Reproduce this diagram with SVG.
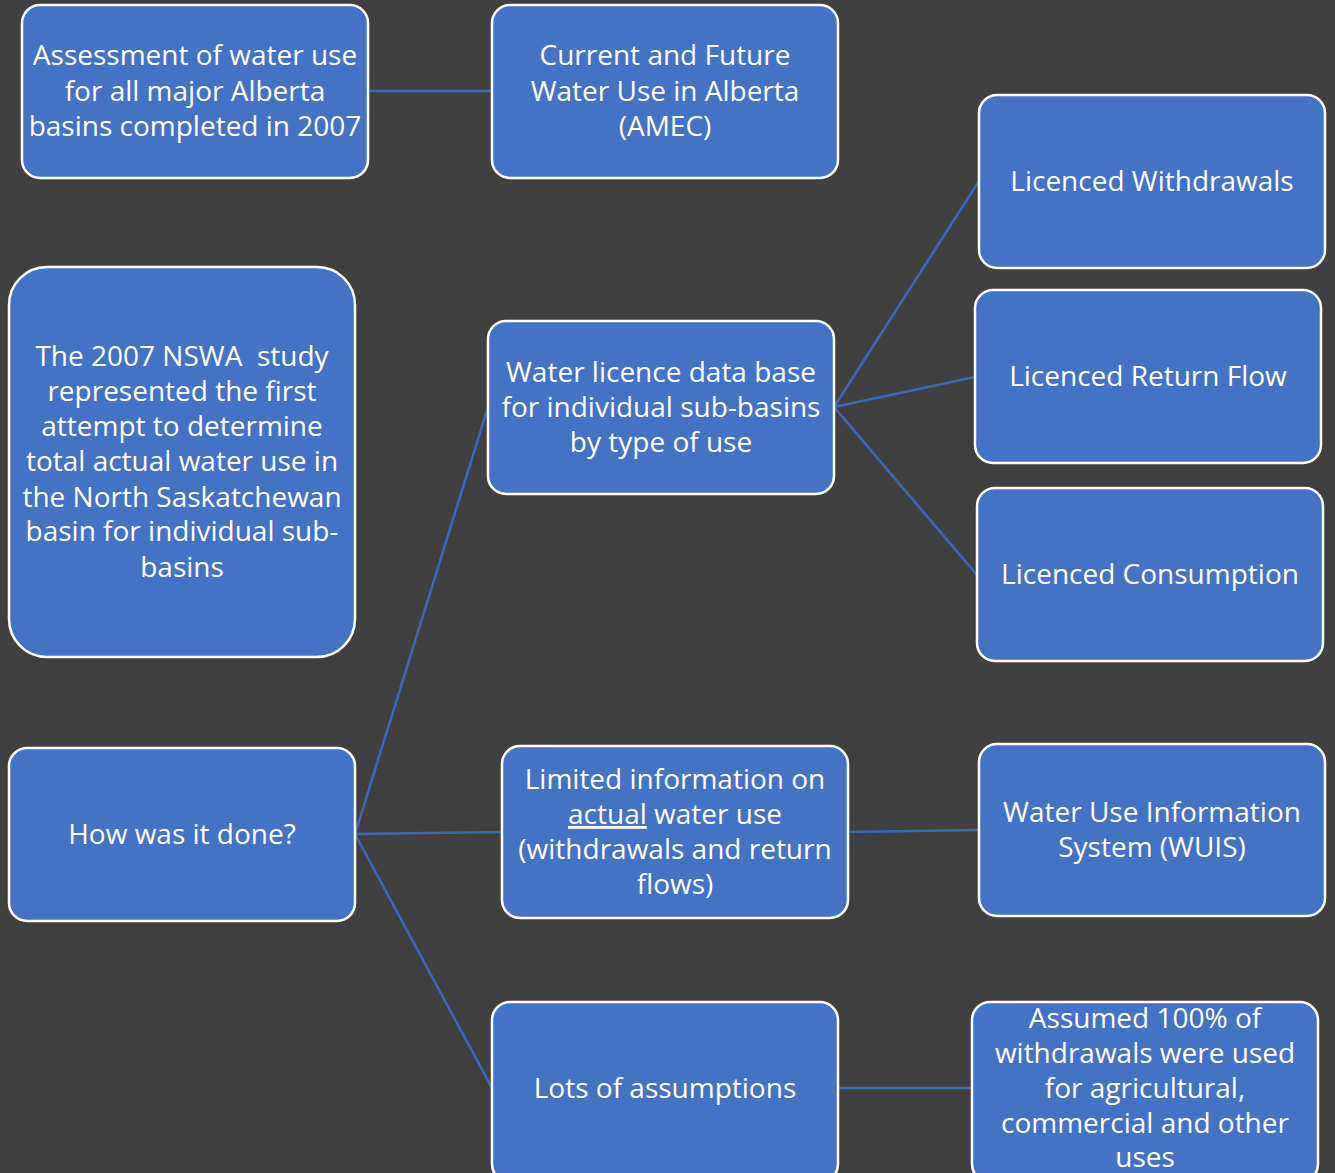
<svg xmlns="http://www.w3.org/2000/svg" width="1335" height="1173" viewBox="0 0 1335 1173">
<style>
.bx{fill:#4472C4;stroke:#FFFFFF;stroke-width:2.5}
.t{fill:#FFFFFF;font-family:"Open Sans","Noto Sans",sans-serif;font-size:28px;text-anchor:middle}
.c{stroke:#3D67B5;stroke-width:2.5;fill:none}
</style>
<rect x="0" y="0" width="1335" height="1173" fill="#404040"/>
<g id="connectors">
<line class="c" x1="368" y1="91" x2="492" y2="91"/>
<line class="c" x1="834" y1="407" x2="979" y2="181"/>
<line class="c" x1="834" y1="407" x2="975" y2="377"/>
<line class="c" x1="834" y1="407" x2="977" y2="575"/>
<line class="c" x1="355" y1="834" x2="488" y2="407"/>
<line class="c" x1="355" y1="834" x2="502" y2="832"/>
<line class="c" x1="355" y1="834" x2="492" y2="1088"/>
<line class="c" x1="848" y1="832" x2="979" y2="830"/>
<line class="c" x1="838" y1="1088" x2="972" y2="1088"/>
</g>
<g id="n1"><rect class="bx" x="22" y="5" width="346" height="173" rx="18"/>
<text class="t"><tspan x="195" y="65">Assessment of water use</tspan><tspan x="195" y="101">for all major Alberta</tspan><tspan x="195" y="136">basins completed in 2007</tspan></text></g>
<g id="n2"><rect class="bx" x="492" y="5" width="346" height="173" rx="18"/>
<text class="t"><tspan x="665" y="65">Current and Future</tspan><tspan x="665" y="101">Water Use in Alberta</tspan><tspan x="665" y="136">(AMEC)</tspan></text></g>
<g id="n3"><rect class="bx" x="979" y="95" width="346" height="173" rx="18"/>
<text class="t"><tspan x="1152" y="191">Licenced Withdrawals</tspan></text></g>
<g id="n4"><rect class="bx" x="9" y="267" width="346" height="390" rx="38"/>
<text class="t"><tspan x="182" y="366">The 2007 NSWA&#160; study</tspan><tspan x="182" y="401">represented the first</tspan><tspan x="182" y="436">attempt to determine</tspan><tspan x="182" y="471">total actual water use in</tspan><tspan x="182" y="507">the North Saskatchewan</tspan><tspan x="182" y="541">basin for individual sub-</tspan><tspan x="182" y="577">basins</tspan></text></g>
<g id="n5"><rect class="bx" x="488" y="321" width="346" height="173" rx="18"/>
<text class="t"><tspan x="661" y="382">Water licence data base</tspan><tspan x="661" y="417">for individual sub-basins</tspan><tspan x="661" y="452">by type of use</tspan></text></g>
<g id="n6"><rect class="bx" x="975" y="290" width="346" height="173" rx="18"/>
<text class="t"><tspan x="1148" y="386">Licenced Return Flow</tspan></text></g>
<g id="n7"><rect class="bx" x="977" y="488" width="346" height="173" rx="18"/>
<text class="t"><tspan x="1150" y="584">Licenced Consumption</tspan></text></g>
<g id="n8"><rect class="bx" x="9" y="748" width="346" height="173" rx="18"/>
<text class="t"><tspan x="182" y="844">How was it done?</tspan></text></g>
<g id="n9"><rect class="bx" x="502" y="746" width="346" height="172" rx="18"/>
<text class="t"><tspan x="675" y="789">Limited information on</tspan><tspan x="675" y="824"><tspan text-decoration="underline">actual</tspan> water use</tspan><tspan x="675" y="859">(withdrawals and return</tspan><tspan x="675" y="894">flows)</tspan></text></g>
<g id="n10"><rect class="bx" x="979" y="744" width="346" height="172" rx="18"/>
<text class="t"><tspan x="1152" y="822">Water Use Information</tspan><tspan x="1152" y="857">System (WUIS)</tspan></text></g>
<g id="n11"><rect class="bx" x="492" y="1002" width="346" height="180" rx="18"/>
<text class="t"><tspan x="665" y="1098">Lots of assumptions</tspan></text></g>
<g id="n12"><rect class="bx" x="972" y="1002" width="346" height="180" rx="18"/>
<text class="t"><tspan x="1145" y="1028">Assumed 100% of</tspan><tspan x="1145" y="1063">withdrawals were used</tspan><tspan x="1145" y="1098">for agricultural,</tspan><tspan x="1145" y="1133">commercial and other</tspan><tspan x="1145" y="1167">uses</tspan></text></g>
</svg>
